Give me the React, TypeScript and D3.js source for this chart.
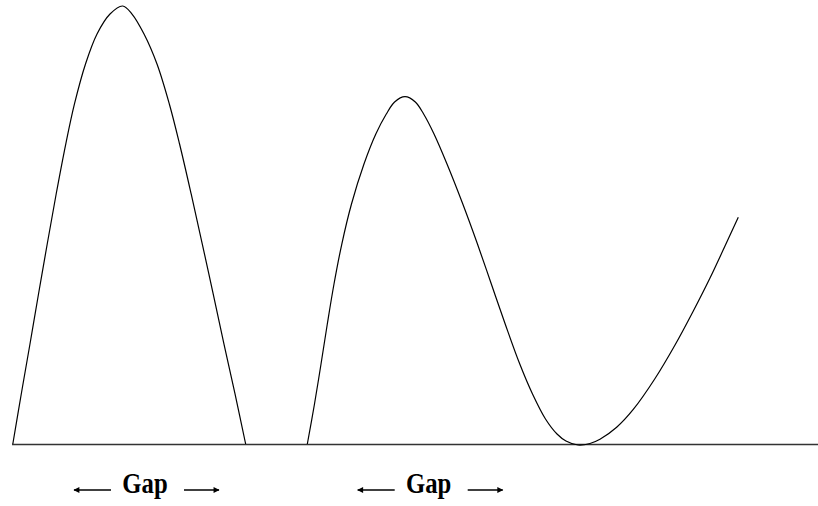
import { useEffect, useRef } from 'react';
import * as d3 from 'd3';

// values: x in 0..100 across the baseline, y in 0..100 (first peak = 100)
const firstPulse: [number, number][] = [
  [0.1, 0], [1.15, 11.42], [2.23, 22.83], [3.29, 34.25], [4.37, 45.66], [5.48, 57.08],
  [6.67, 68.49], [7.75, 77.63], [9.12, 86.76], [10.55, 93.61], [12.16, 98.17], [13.73, 100],
  [14.89, 98.17], [16.38, 93.61], [17.99, 86.76], [19.52, 77.63], [20.79, 68.49],
  [22.23, 57.08], [23.61, 45.66], [24.96, 34.25], [26.3, 22.83], [27.67, 11.42], [28.99, 0],
];

const secondPulse: [number, number][] = [
  [36.64, 0], [37.53, 9.13], [38.34, 18.26], [39.12, 27.4], [39.95, 36.53], [40.92, 45.66],
  [42.12, 54.79], [43.67, 63.93], [45.14, 70.78], [46.44, 75.34], [47.47, 78.08], [48.76, 79.29],
  [50.04, 78.08], [51.07, 75.34], [52.36, 70.78], [53.97, 63.93], [55.93, 54.79], [57.75, 45.66],
  [59.47, 36.53], [61.19, 27.4], [63.0, 18.26], [64.58, 11.42], [66.19, 5.71], [67.62, 2.28],
  [68.73, 0.68], [70.22, -0.23], [71.71, 0.11], [72.95, 1.07], [75.02, 3.81], [77.08, 7.88],
  [79.78, 14.95], [82.26, 22.6], [84.53, 30.37], [86.6, 37.9], [88.46, 45.21], [90.11, 51.76],
];

const gapLabels = ['Gap', 'Gap'];
const gapCenters = [16.5, 51.7];

const width = 818;
const height = 506;
const margin = { left: 12, right: 0, top: 6, bottom: 62 };

function App() {
  const svgRef = useRef<SVGSVGElement>(null);

  useEffect(() => {
    if (svgRef.current === null) return;

    const x = d3.scaleLinear().domain([0, 100]).range([margin.left, width - margin.right]);
    const y = d3.scaleLinear().domain([0, 100]).range([height - margin.bottom, margin.top]);

    const svg = d3.select(svgRef.current);
    svg.selectAll('*').remove();

    const defs = svg.append('defs');
    defs.append('marker')
      .attr('id', 'head')
      .attr('viewBox', '0 0 10 10')
      .attr('refX', 9)
      .attr('refY', 5)
      .attr('markerWidth', 9)
      .attr('markerHeight', 6)
      .attr('markerUnits', 'userSpaceOnUse')
      .attr('orient', 'auto')
      .append('path')
      .attr('d', 'M0,0L10,5L0,10Z')
      .attr('fill', '#000');

    // baseline
    svg.append('line')
      .attr('x1', x(0))
      .attr('x2', x(100))
      .attr('y1', y(0) + 0.5)
      .attr('y2', y(0) + 0.5)
      .attr('stroke', '#333')
      .attr('stroke-width', 1.3);

    const line = d3.line<[number, number]>()
      .x(d => x(d[0]))
      .y(d => y(d[1]))
      .curve(d3.curveCatmullRom.alpha(0.5));

    [firstPulse, secondPulse].forEach(series => {
      svg.append('path')
        .attr('d', line(series))
        .attr('fill', 'none')
        .attr('stroke', '#000')
        .attr('stroke-width', 1.2);
    });

    const labels = svg.append('g');
    gapLabels.forEach((text, i) => {
      const cx = x(gapCenters[i]);
      const ay = 490;
      labels.append('text')
        .attr('transform', `translate(${cx},493) scale(0.95,1.12)`)
        .attr('text-anchor', 'middle')
        .attr('font-family', '"Liberation Serif", "Times New Roman", serif')
        .attr('font-weight', 'bold')
        .attr('font-size', 26)
        .text(text);
      labels.append('line')
        .attr('x1', cx - 34).attr('x2', cx - 71)
        .attr('y1', ay).attr('y2', ay)
        .attr('stroke', '#000').attr('stroke-width', 1.5)
        .attr('marker-end', 'url(#head)');
      labels.append('line')
        .attr('x1', cx + 39).attr('x2', cx + 74)
        .attr('y1', ay).attr('y2', ay)
        .attr('stroke', '#000').attr('stroke-width', 1.5)
        .attr('marker-end', 'url(#head)');
    });
  }, []);

  return (
    <svg
      ref={svgRef}
      width={width}
      height={height}
      style={{ position: 'fixed', left: 0, top: 0, background: '#fff' }}
    />
  );
}

export default App;
